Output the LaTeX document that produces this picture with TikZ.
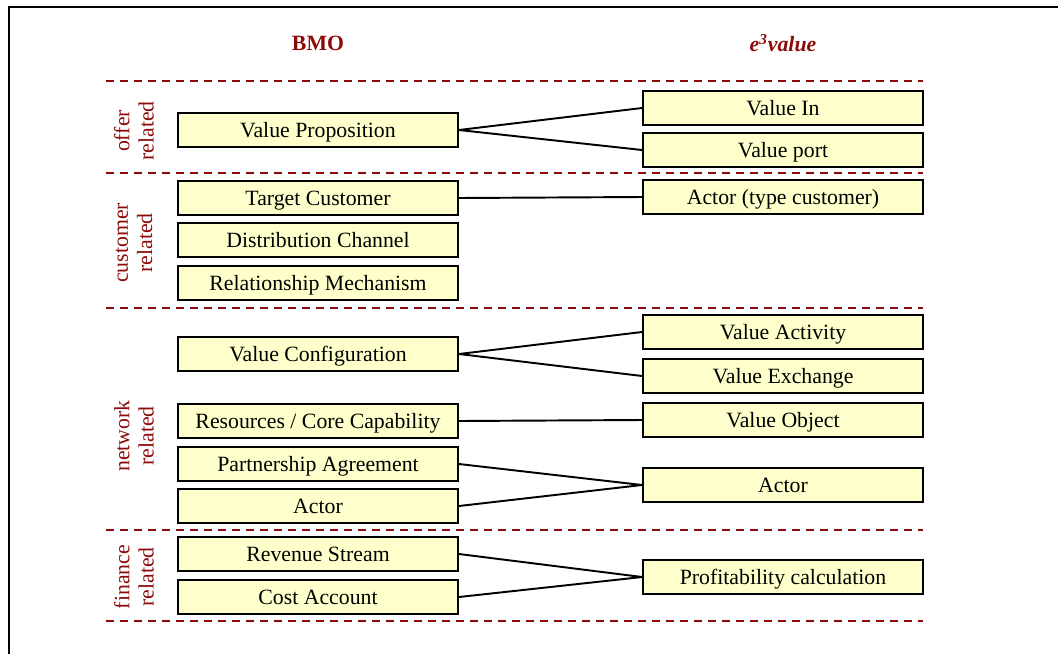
\documentclass[tikz,border=0pt]{standalone}
\usepackage{fontspec}
\setmainfont{Liberation Serif}
\usepackage{tikz}
\usetikzlibrary{positioning, calc}
\usepackage{xcolor}
\definecolor{darkred}{RGB}{140, 10, 10}
\definecolor{boxyellow}{RGB}{255, 255, 204}

\tikzset{
    concept/.style={draw=black, line width=1.1pt, fill=boxyellow, minimum width=5.6cm, minimum height=0.68cm, inner sep=0pt, text height=8pt, text depth=0pt, font=\fontsize{12.4}{14}\selectfont},
    link/.style={black, line width=1.1pt},
    separator/.style={darkred, line width=1.1pt, dash pattern=on 0.17cm off 0.11cm},
    sidelabel/.style={darkred, rotate=90, align=center, font=\fontsize{12.4}{13.8}\selectfont},
    header/.style={darkred, font=\fontsize{12.4}{14}\selectfont\bfseries}
}

\begin{document}
\begin{tikzpicture}[x=0.02cm, y=-0.02cm]
    \useasboundingbox (0,0) rectangle (1058,653);
    % Rahmen
    \draw[line width=1.1pt] (9,700) -- (9,7) -- (1070,7);

    % Spaltenköpfe
    \node[header] (bmo) at (318,43) {BMO};
    \node[header] (evalue) at (783,43) {\itshape e\textsuperscript{3}value};

    % Trennlinien
    \foreach \y in {81, 173, 308, 530, 621}
        \draw[separator] (106,\y) -- (923,\y);

    % Bereiche
    \node[sidelabel] (offer) at (134,131) {offer\\related};
    \node[sidelabel] (customer) at (134,243) {customer\\related};
    \node[sidelabel] (network) at (134,436) {network\\related};
    \node[sidelabel] (finance) at (134,577) {finance\\related};

    % BMO Elemente
    \node[concept] (vprop) at (318,130) {Value Proposition};
    \node[concept] (tcust) at (318,198) {Target Customer};
    \node[concept] (dchan) at (318,240) {Distribution Channel};
    \node[concept] (relmech) at (318,283) {Relationship Mechanism};
    \node[concept] (vconf) at (318,354) {Value Configuration};
    \node[concept] (rescap) at (318,421) {Resources / Core Capability};
    \node[concept] (partner) at (318,464) {Partnership Agreement};
    \node[concept] (actorL) at (318,506) {Actor};
    \node[concept] (revstream) at (318,554) {Revenue Stream};
    \node[concept] (costacc) at (318,597) {Cost Account};

    % e3value Elemente
    \node[concept] (valin) at (783,108) {Value In};
    \node[concept] (valport) at (783,150) {Value port};
    \node[concept] (actcust) at (783,197) {Actor (type customer)};
    \node[concept] (vact) at (783,332) {Value Activity};
    \node[concept] (vexch) at (783,376) {Value Exchange};
    \node[concept] (vobj) at (783,420) {Value Object};
    \node[concept] (actorR) at (783,485) {Actor};
    \node[concept] (profcalc) at (783,577) {Profitability calculation};

    % Zuordnungen
    \draw[link] (vprop.east) -- (valin.west);
    \draw[link] (vprop.east) -- (valport.west);
    \draw[link] (tcust.east) -- (actcust.west);
    \draw[link] (vconf.east) -- (vact.west);
    \draw[link] (vconf.east) -- (vexch.west);
    \draw[link] (rescap.east) -- (vobj.west);
    \draw[link] (partner.east) -- (actorR.west);
    \draw[link] (actorL.east) -- (actorR.west);
    \draw[link] (revstream.east) -- (profcalc.west);
    \draw[link] (costacc.east) -- (profcalc.west);
\end{tikzpicture}
\end{document}
